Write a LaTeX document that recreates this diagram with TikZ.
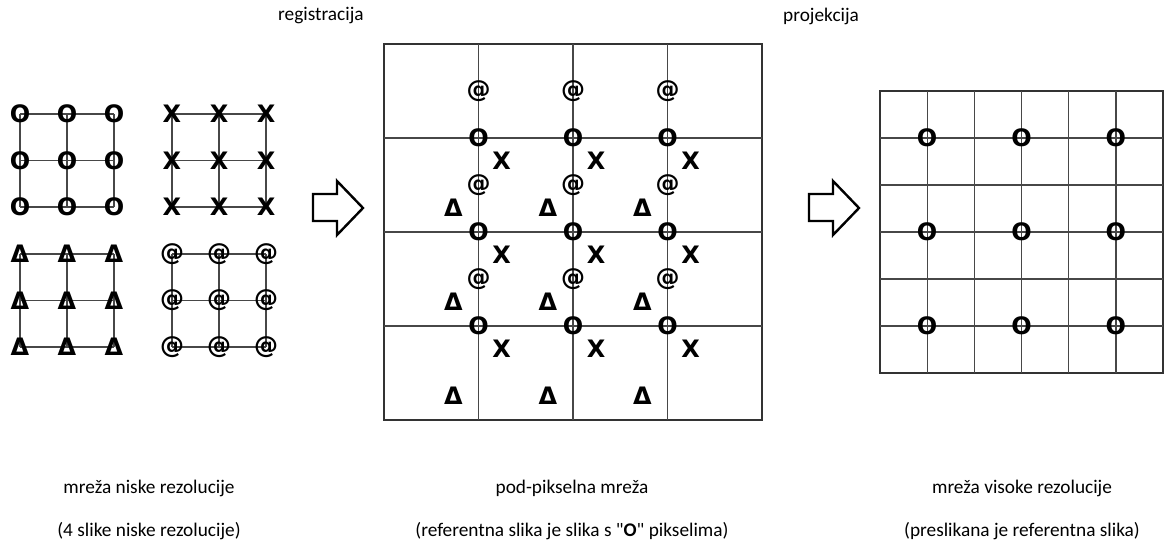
\documentclass[tikz,border=0pt]{standalone}
\usepackage{fontspec}
\setmainfont{Carlito}[Ligatures=TeXOff]
\newfontfamily\znakfont{DejaVu Sans}

% mreza 3x3 niske rezolucije: #1,#2 gornji lijevi kut, #3 znak, #4 ime
\newcommand{\niskamreza}[4]{%
  \foreach \i in {0,1,2} {
    \draw[mreza] (#1+47*\i,#2) -- (#1+47*\i,#2+93);
    \draw[mreza] (#1,#2+46.5*\i) -- (#1+94,#2+46.5*\i);
  }
  \foreach \i in {0,1,2}
    \foreach \j in {0,1,2}
      \node[piksel] (#4-\i-\j) at (#1+47*\i,#2+46.5*\j) {#3};
}

\begin{document}
\begin{tikzpicture}[x=1pt,y=-1pt,
  mreza/.style={draw=black!72, line width=1.3pt},
  okvir/.style={draw=black!80, line width=1.3pt},
  piksel/.style={font=\znakfont\bfseries\fontsize{24}{24}\selectfont, inner sep=0pt},
  natpis/.style={font=\fontsize{19.3}{22}\selectfont, inner sep=0pt},
  strelica/.style={draw=black, line width=2.4pt, fill=white, line join=miter}]

  \useasboundingbox (0,0) rectangle (1165,546);

  % Cetiri slike niske rezolucije
  \niskamreza{20}{114}{O}{o}
  \niskamreza{172}{114}{X}{x}
  \niskamreza{20}{254}{Δ}{d}
  \niskamreza{172}{254}{@}{a}

  % Strelice
  \draw[strelica] (313,194) -- (337,194) -- (337,181) -- (363,208)
    -- (337,235) -- (337,221) -- (313,221) -- cycle;
  \draw[strelica] (809,194) -- (833,194) -- (833,181) -- (859,208)
    -- (833,235) -- (833,221) -- (809,221) -- cycle;
  \node[natpis, anchor=west] (reg) at (278,16) {registracija};
  \node[natpis, anchor=west] (proj) at (783,16) {projekcija};

  % Pod-pikselna mreza
  \draw[okvir] (384,44) rectangle (762,420);
  \foreach \k in {1,2,3} {
    \draw[mreza] (384+94.5*\k,44) -- (384+94.5*\k,420);
    \draw[mreza] (384,44+94*\k) -- (762,44+94*\k);
  }
  \foreach \i in {0,1,2}
    \foreach \j in {0,1,2} {
      \node[piksel] (po-\i-\j) at (478.5+94.5*\i,138+94*\j) {O};
      \node[piksel] (px-\i-\j) at (501.5+94.5*\i,161+94*\j) {X};
      \node[piksel] (pa-\i-\j) at (478.5+94.5*\i,91+94*\j) {@};
      \node[piksel] (pd-\i-\j) at (453.5+94.5*\i,208+94*\j) {Δ};
    }

  % Mreza visoke rezolucije
  \draw[okvir] (880,91) rectangle (1163,373);
  \foreach \k in {1,...,5} {
    \draw[mreza] (880+47.17*\k,91) -- (880+47.17*\k,373);
    \draw[mreza] (880,91+47*\k) -- (1163,91+47*\k);
  }
  \foreach \i in {1,3,5}
    \foreach \j in {1,3,5}
      \node[piksel] (vo-\i-\j) at (880+47.17*\i,91+47*\j) {O};

  % Natpisi
  \node[natpis] (n1) at (149,488) {mreža niske rezolucije};
  \node[natpis] (n2) at (149,531) {(4 slike niske rezolucije)};
  \node[natpis] (n3) at (572,488) {pod-pikselna mreža};
  \node[natpis] (n4) at (572,531) {(referentna slika je slika s "{\bfseries O}" pikselima)};
  \node[natpis] (n5) at (1022,488) {mreža visoke rezolucije};
  \node[natpis] (n6) at (1022,531) {(preslikana je referentna slika)};
\end{tikzpicture}
\end{document}
